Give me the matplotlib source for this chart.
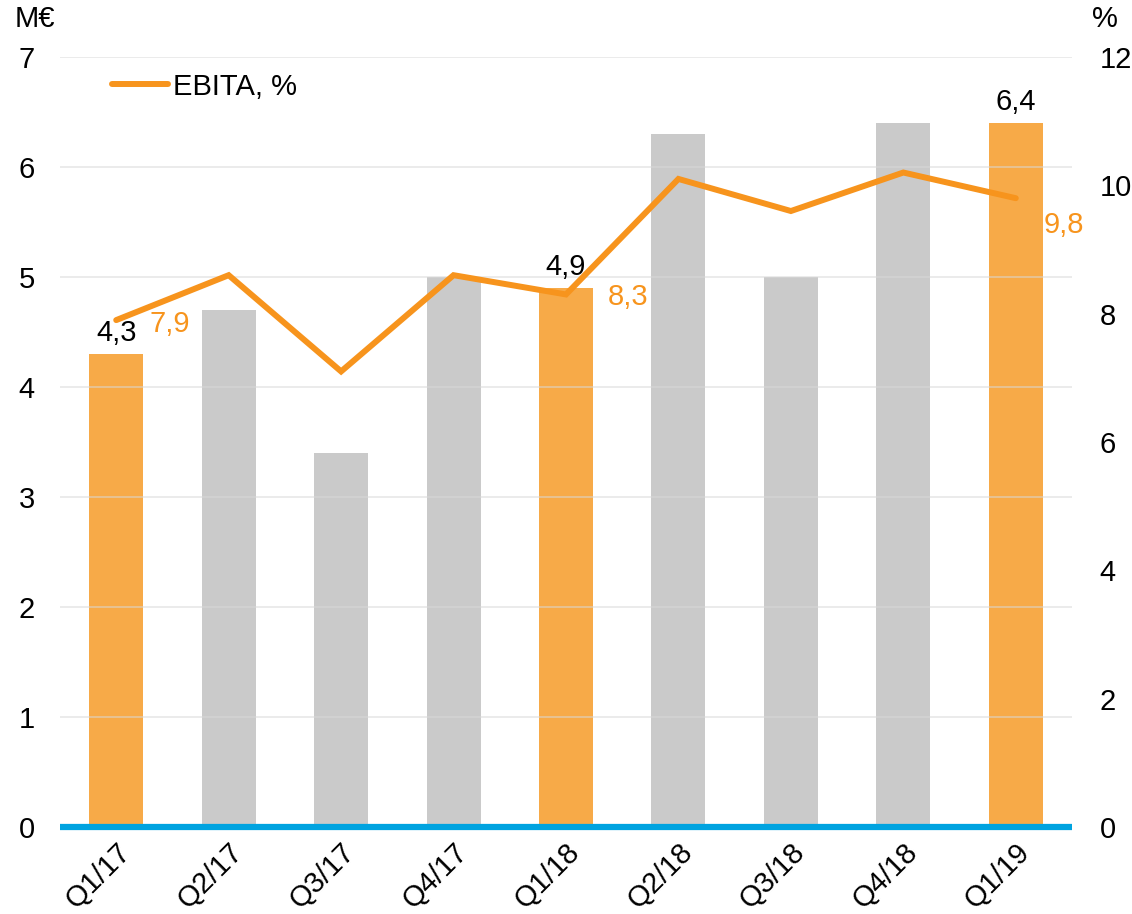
import matplotlib
matplotlib.use("Agg")
import matplotlib.pyplot as plt

plt.rcParams['font.family'] = ['Liberation Sans', 'DejaVu Sans']

quarters = ["Q1/17", "Q2/17", "Q3/17", "Q4/17", "Q1/18", "Q2/18", "Q3/18", "Q4/18", "Q1/19"]
ebita_meur = [4.3, 4.7, 3.4, 5.0, 4.9, 6.3, 5.0, 6.4, 6.4]
ebita_pct = [7.9, 8.6, 7.1, 8.6, 8.3, 10.1, 9.6, 10.2, 9.8]
highlight = [True, False, False, False, True, False, False, False, True]
bar_labels = {0: "4,3", 4: "4,9", 8: "6,4"}
pct_labels = {0: "7,9", 4: "8,3", 8: "9,8"}

ORANGE_BAR = "#F7AA48"
GRAY_BAR = "#CACACA"
ORANGE_LINE = "#F7941D"
BLUE = "#00A3E0"
FS = 21

fig = plt.figure(figsize=(11.32, 9.14), dpi=100)
ax = fig.add_axes([0.053, 0.0952, 0.894, 0.8424])
ax2 = ax.twinx()

x = list(range(len(quarters)))
colors = [ORANGE_BAR if h else GRAY_BAR for h in highlight]
ax.bar(x, ebita_meur, width=0.48, color=colors, zorder=1)
ax.set_axisbelow(False)
ax.grid(axis='y', color='#D9D9D9', linewidth=1.2, alpha=0.6, zorder=2)
ax.set_xlim(-0.5, len(quarters) - 0.5)
ax.set_ylim(0, 7)
ax.set_yticks(range(0, 8))

for s in ['top', 'right', 'left']:
    ax.spines[s].set_visible(False)
    ax2.spines[s].set_visible(False)
ax2.spines['bottom'].set_visible(False)
ax.spines['bottom'].set_color(BLUE)
ax.spines['bottom'].set_linewidth(4.5)
ax.spines['bottom'].set_capstyle('butt')
ax.spines['bottom'].set_zorder(5)

ax.tick_params(axis='y', length=0, labelsize=FS, pad=18)
ax.tick_params(axis='x', length=0, labelsize=FS, pad=8)
ax.set_xticks(x)
ax.set_xticklabels(quarters, rotation=45, ha='right', rotation_mode='anchor')

ax2.set_ylim(0, 12)
ax2.set_yticks(range(0, 13, 2))
ax2.tick_params(axis='y', length=0, labelsize=FS, pad=20)
line, = ax2.plot(x, ebita_pct, color=ORANGE_LINE, linewidth=4.3,
                 solid_capstyle='round', solid_joinstyle='miter', label="EBITA, %", zorder=3)

for i, t in bar_labels.items():
    ax.annotate(t, (x[i], ebita_meur[i]), xytext=(0, 5), textcoords='offset points',
                ha='center', va='bottom', fontsize=FS, color='black')
for i, t in pct_labels.items():
    if i == 8:
        off = (20, -9)
        va = 'top'
    elif i == 4:
        off = (30, -2)
        va = 'center'
    else:
        off = (24, -3)
        va = 'center'
    ax2.annotate(t, (x[i], ebita_pct[i]), xytext=off, textcoords='offset points',
                 ha='left', va=va, fontsize=FS, color=ORANGE_LINE)

fig.text(0.031, 0.979, "M€", fontsize=FS, ha='center', va='center')
fig.text(0.976, 0.979, "%", fontsize=FS, ha='center', va='center')

leg = ax2.legend(handles=[line], loc='upper left', bbox_to_anchor=(0.04, 0.995),
                 frameon=False, fontsize=FS, handlelength=1.9, handletextpad=0.2,
                 borderaxespad=0)

fig.savefig("out.png", dpi=100)
